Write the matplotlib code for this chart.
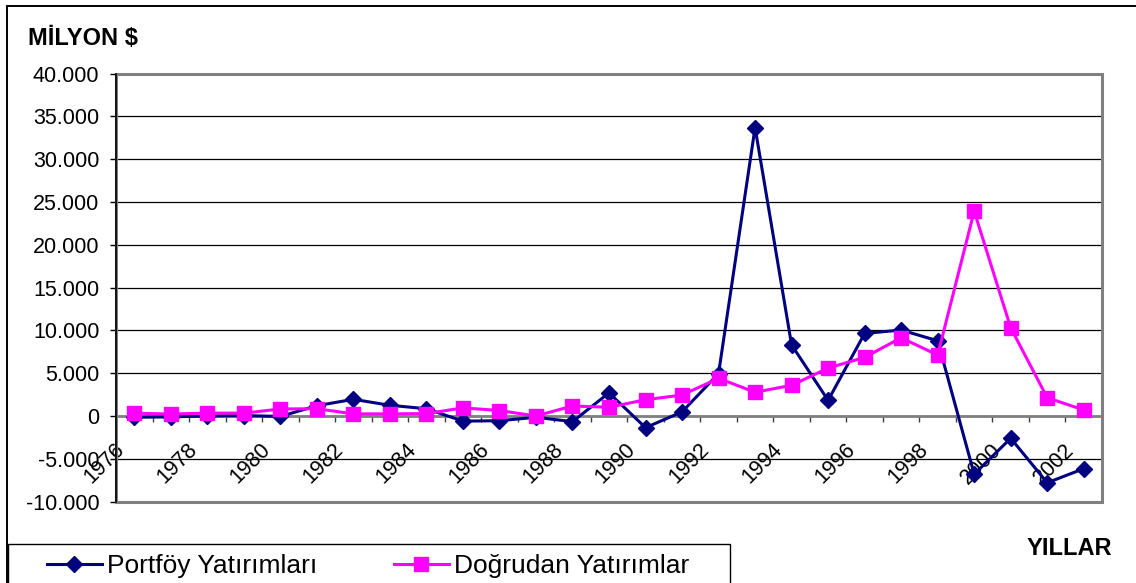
import matplotlib
matplotlib.use("Agg")
import matplotlib.pyplot as plt
from matplotlib.patches import Rectangle
from matplotlib.ticker import FixedLocator, FuncFormatter
from matplotlib.transforms import ScaledTranslation
import numpy as np

plt.rcParams['font.family'] = ['Liberation Sans', 'DejaVu Sans']

years = list(range(1976, 2003))
portfoy = [-150, -100, 0, 50, -50, 1200, 1950, 1250, 850, -600, -550, -150, -660,
           2700, -1360, 480, 4950, 33700, 8300, 1830, 9650, 10040, 8790,
           -6800, -2600, -7800, -6150]
dogrudan = [330, 230, 340, 330, 820, 850, 250, 250, 280, 950, 640, 0, 1170,
            1020, 1900, 2450, 4400, 2780, 3580, 5600, 6850, 9140, 7120,
            23930, 10310, 2140, 700]
y_ticks = list(range(-10000, 40001, 5000))
series_names = ['Portföy Yatırımları', 'Doğrudan Yatırımlar']
y_title = 'MİLYON $'
x_title = 'YILLAR'

W, H = 1136, 583
fig = plt.figure(figsize=(W / 100, H / 100), dpi=100)
ax = fig.add_axes([116 / W, (H - 501.6) / H, 986 / W, 428 / H])

x = np.arange(len(years))
ax.plot(x, portfoy, color='#000080', lw=2.2, marker='D', ms=8,
        mec='#000080', mfc='#000080', zorder=4, label=series_names[0])
ax.plot(x, dogrudan, color='#FF00FF', lw=2.2, marker='s', ms=10.3,
        mec='#FF00FF', mfc='#FF00FF', zorder=5, label=series_names[1])

ax.set_xlim(-0.5, len(years) - 0.5)
ax.set_ylim(y_ticks[0], y_ticks[-1])

# y axis
ax.set_yticks(y_ticks)
ax.yaxis.set_major_formatter(FuncFormatter(lambda v, p: f"{int(v):,}".replace(',', '.')))
ax.tick_params(axis='y', direction='out', length=4.5, width=1, color='black',
               pad=7.5, labelsize=15.5)
ax.yaxis.grid(True, color='black', lw=0.9, zorder=1)
ax.set_axisbelow(True)

# x axis at zero
for s in ['top', 'right']:
    ax.spines[s].set_visible(False)
ax.spines['left'].set_color('black')
ax.spines['left'].set_linewidth(1.2)
ax.spines['bottom'].set_position(('data', 0))
ax.spines['bottom'].set_color('#808080')
ax.spines['bottom'].set_linewidth(2)
ax.spines['bottom'].set_zorder(3)

ax.xaxis.set_major_locator(FixedLocator(np.arange(len(years) + 1) - 0.5))
ax.xaxis.set_major_formatter(FuncFormatter(lambda v, p: ''))
label_pos = x[::2]
ax.xaxis.set_minor_locator(FixedLocator(label_pos))
ax.xaxis.set_minor_formatter(FuncFormatter(lambda v, p: str(years[int(round(v))])))
ax.tick_params(axis='x', which='major', direction='out', length=4, width=1,
               color='#404040')
ax.tick_params(axis='x', which='minor', length=0, pad=25, labelsize=15.5)
offset = ScaledTranslation(-9 / 100, 0, fig.dpi_scale_trans)
for lbl in ax.xaxis.get_minorticklabels():
    lbl.set_rotation(45)
    lbl.set_rotation_mode('anchor')
    lbl.set_ha('right')
    lbl.set_va('baseline')
    lbl.set_transform(lbl.get_transform() + offset)

# plot-area frame
ax.add_patch(Rectangle((0, 0), 1, 1, transform=ax.transAxes, fill=False,
                       edgecolor='#808080', lw=2.2, clip_on=False, zorder=2))
ax.spines['left'].set_zorder(6)

# titles
fig.text(28 / W, 1 - 45 / H, y_title, fontsize=17, fontweight='bold',
         ha='left', va='baseline')
fig.text(1027 / W, 1 - 555 / H, x_title, fontsize=17, fontweight='bold',
         ha='left', va='baseline')

# outer chart border
fig.add_artist(Rectangle((7 / W, -0.2), 2, (H - 6) / H + 0.2,
                         transform=fig.transFigure, fill=False,
                         edgecolor='black', lw=1.4))

# legend
fig.add_artist(Rectangle((8 / W, -0.2), 722 / W, (H - 544) / H + 0.2,
                         transform=fig.transFigure, fill=False,
                         edgecolor='black', lw=1.0))
leg = ax.legend(loc='center left', bbox_to_anchor=(47 / W, (H - 566) / H),
                bbox_transform=fig.transFigure, ncol=2, frameon=False,
                fontsize=19, handlelength=2.08, handletextpad=0.2,
                columnspacing=2.9, borderpad=0, borderaxespad=0)

fig.savefig('out.png', dpi=100)
